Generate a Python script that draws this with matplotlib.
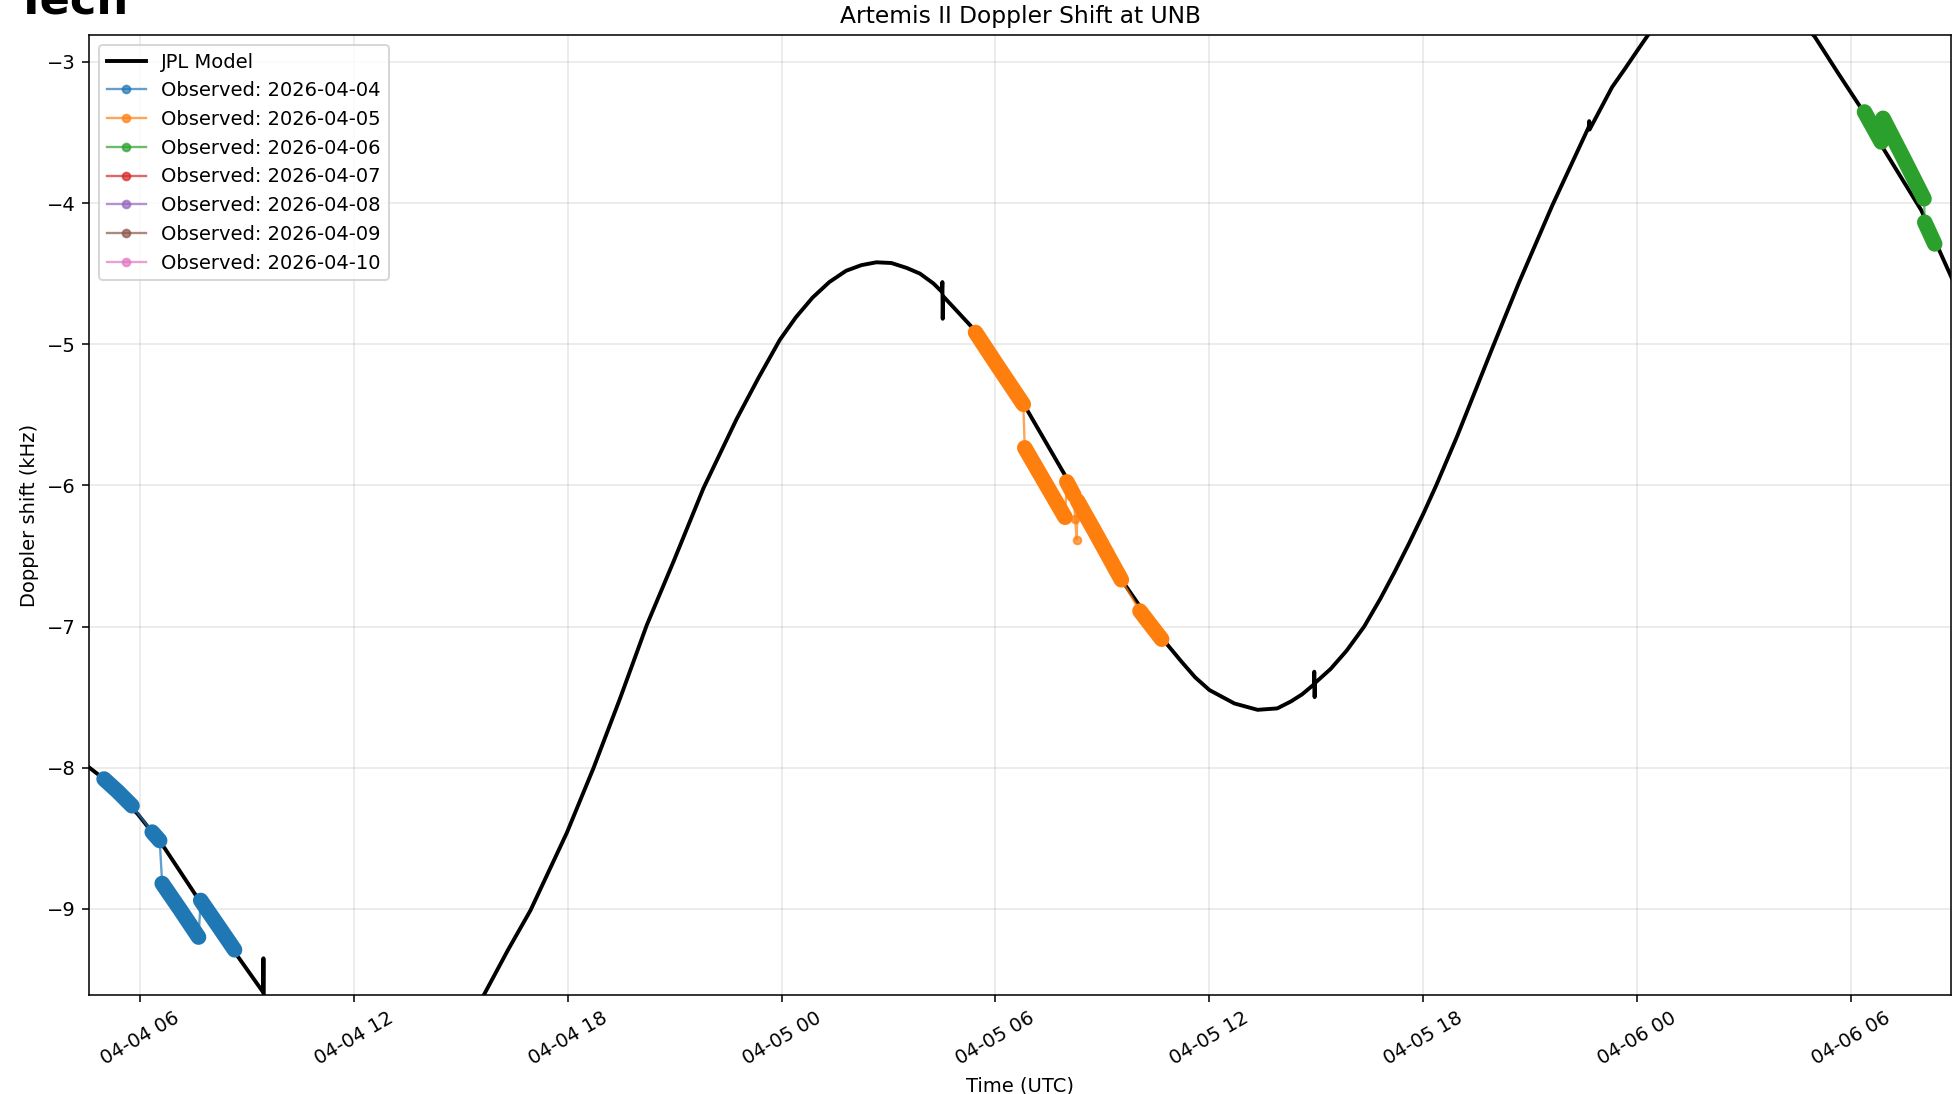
import numpy as np
import matplotlib
matplotlib.use("Agg")
import matplotlib.pyplot as plt
import matplotlib.dates as mdates

# hours since 2026-04-04 00:00 UTC
model_hours = [4.59, 5.0, 5.95, 6.70, 7.59, 8.76, 9.46, 9.47, 9.48,
               10.5, 12.0, 13.5, 15.0, 15.65, 16.33, 16.96, 17.98, 18.73,
               19.47, 20.22, 20.97, 21.81, 22.74, 23.35, 23.95, 24.40,
               24.87, 25.34, 25.81, 26.24, 26.66, 27.08, 27.51, 27.88,
               28.26, 28.50, 28.51, 28.52, 28.53, 28.90, 29.34,
               30.0, 30.85, 31.93, 32.87, 33.62, 34.66, 35.22, 35.60, 36.0,
               36.70, 37.35, 37.90, 38.29, 38.60, 38.93, 38.94, 38.95, 38.96,
               39.40, 39.85, 40.34, 40.80, 41.20, 41.60, 42.0, 42.36,
               42.95, 43.93, 44.67, 45.61, 46.64, 46.65, 46.66, 47.29, 47.65,
               48.0, 48.3, 49.0, 50.0, 51.0, 52.0, 52.97, 53.63, 54.28, 54.84,
               55.40, 55.96, 56.85]
model_khz = [-8.00, -8.08, -8.33, -8.57, -8.91, -9.34, -9.59, -9.35, -9.66,
             -9.95, -10.15, -10.10, -9.85, -9.61, -9.29, -9.01, -8.46, -8.00,
             -7.51, -6.99, -6.54, -6.02, -5.53, -5.24, -4.97, -4.81,
             -4.67, -4.56, -4.48, -4.44, -4.42, -4.425, -4.46, -4.50,
             -4.57, -4.63, -4.56, -4.82, -4.66, -4.76, -4.88,
             -5.09, -5.45, -5.92, -6.35, -6.70, -7.08, -7.25, -7.36, -7.45,
             -7.545, -7.59, -7.58, -7.53, -7.48, -7.41, -7.32, -7.50, -7.40,
             -7.30, -7.17, -7.00, -6.80, -6.61, -6.41, -6.20, -6.00,
             -5.65, -5.03, -4.57, -4.02, -3.46, -3.42, -3.48, -3.18, -3.05,
             -2.92, -2.81, -2.62, -2.48, -2.45, -2.56, -2.82, -3.08, -3.33,
             -3.59, -3.82, -4.05, -4.55]

days = ["2026-04-04", "2026-04-05", "2026-04-06", "2026-04-07",
        "2026-04-08", "2026-04-09", "2026-04-10"]
colors = ["#1f77b4", "#ff7f0e", "#2ca02c", "#d62728",
          "#9467bd", "#8c564b", "#e377c2"]

# observed passes, each day is a list of contiguous tracks: (hours, kHz)
obs_04 = [([5.00, 5.39, 5.785], [-8.08, -8.17, -8.27]),
          ([6.35, 6.56], [-8.456, -8.516]),
          ([6.63, 7.12, 7.65], [-8.82, -9.00, -9.20]),
          ([7.71, 8.20, 8.66], [-8.94, -9.12, -9.29])]
obs_05 = [([29.44, 30.09, 30.78], [-4.917, -5.166, -5.426]),
          ([30.82, 31.95], [-5.734, -6.226]),
          ([32.00, 32.20], [-5.975, -6.07]),
          ([32.23], [-6.235]),
          ([32.28], [-6.385]),
          ([32.30, 32.78, 33.53], [-6.11, -6.325, -6.669]),
          ([34.05, 34.66], [-6.89, -7.09])]
obs_06 = [([54.37, 54.84], [-3.355, -3.568]),
          ([54.89, 55.45, 56.04], [-3.40, -3.675, -3.97]),
          ([56.06, 56.34], [-4.136, -4.29])]
obs_07 = []
obs_08 = []
obs_09 = []
obs_10 = []
observed = [obs_04, obs_05, obs_06, obs_07, obs_08, obs_09, obs_10]

base = np.datetime64("2026-04-04T00:00:00")


def to_time(hours):
    secs = np.round(np.asarray(hours, dtype=float) * 3600).astype("int64")
    return base + secs.astype("timedelta64[s]")


fig = plt.figure(figsize=(1957 / 140, 1094 / 140), dpi=140)
ax = fig.add_axes([0.0457, 0.0905, 0.9513, 0.8775])

ax.plot(to_time(model_hours), model_khz, color="black", lw=2,
        label="JPL Model", zorder=2)

for day, col, tracks in zip(days, colors, observed):
    all_h = [h for tr in tracks for h in tr[0]]
    all_v = [v for tr in tracks for v in tr[1]]
    ax.plot(to_time(all_h), all_v, "o-", color=col, ms=4, lw=1.2,
            alpha=0.7, label="Observed: " + day, zorder=3)
    for hrs, vals in tracks:
        if len(hrs) > 1:
            ax.plot(to_time(hrs), vals, color=col, lw=8,
                    solid_capstyle="round", solid_joinstyle="round", zorder=4)

ax.set_xlim(to_time([4.59])[0], to_time([56.8])[0])
ax.set_ylim(-9.61, -2.81)
ax.xaxis.set_major_locator(mdates.HourLocator(byhour=[0, 6, 12, 18]))
ax.xaxis.set_major_formatter(mdates.DateFormatter("%m-%d %H"))
plt.setp(ax.get_xticklabels(), rotation=30)

ax.set_title("Artemis II Doppler Shift at UNB")
ax.set_xlabel("Time (UTC)")
ax.set_ylabel("Doppler shift (kHz)")
ax.grid(True, alpha=0.3)
ax.legend(loc="upper left")

# cut-off page heading above the chart
fig.text(0.008, 1 - 13 / 1094, "Tech", fontsize=23, fontweight="bold",
         va="baseline")

fig.savefig("out.png", dpi=140)
